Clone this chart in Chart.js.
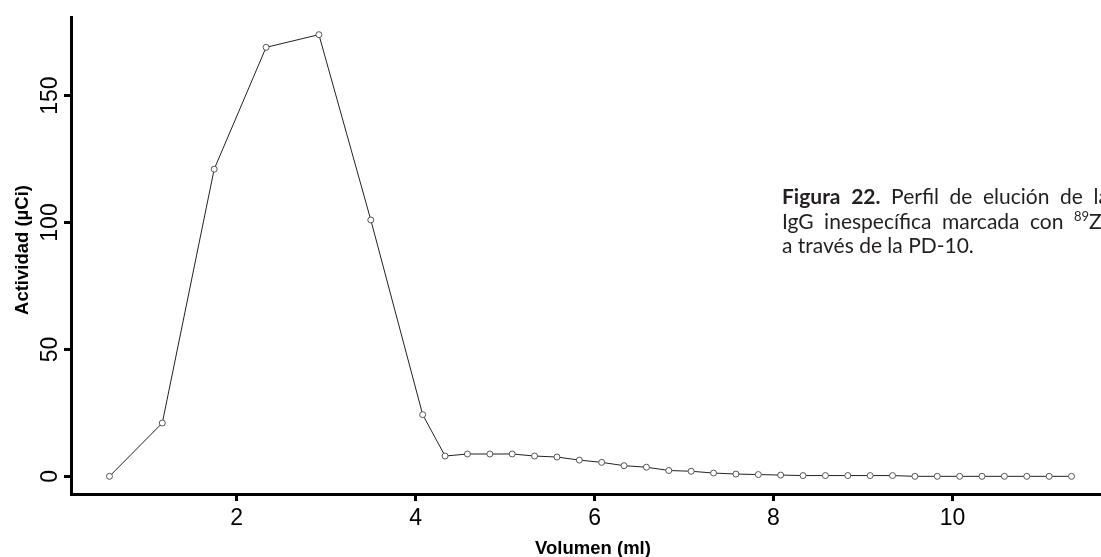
<!DOCTYPE html>
<html>
<head>
<meta charset="utf-8">
<script src="https://cdn.jsdelivr.net/npm/chart.js@4/dist/chart.umd.min.js"></script>
<style>
    html, body { margin: 0; padding: 0; overflow: hidden; background: #fff; }
    #wrap { position: relative; width: 1115px; height: 557px; }
</style>
</head>
<body>
<div id="wrap"><canvas id="elutionChart" width="1115" height="557"></canvas></div>
<script>
// elution fractions: volume (ml) and measured activity (µCi)
const volumeMl = [0.58, 1.17, 1.75, 2.33, 2.92, 3.5, 4.08, 4.33, 4.58, 4.83, 5.08, 5.33, 5.58, 5.83,
    6.08, 6.33, 6.58, 6.83, 7.08, 7.33, 7.58, 7.83, 8.08, 8.33, 8.58, 8.83, 9.08, 9.33,
    9.58, 9.83, 10.08, 10.33, 10.58, 10.83, 11.08, 11.33];
const activityUCi = [0, 21, 121, 169, 174, 101, 24.3, 8, 8.8, 8.8, 8.8, 8, 7.6, 6.4,
    5.5, 4.2, 3.6, 2.3, 2.0, 1.3, 0.9, 0.7, 0.5, 0.3, 0.3, 0.3, 0.3, 0.3,
    0, 0, 0, 0, 0, 0, 0, 0];
const xTickValues = [2, 4, 6, 8, 10];
const yTickValues = [0, 50, 100, 150];
const xAxisTitle = 'Volumen (ml)';
const yAxisTitle = 'Actividad (µCi)';
// '*' marks bold words, '^89~Zr' is a superscript followed by normal text
const captionLines = [
    '*Figura *22. Perfil de elución de la',
    'IgG inespecífica marcada con ^89~Zr',
    'a través de la PD-10.'
];

const tickFont = '23px "Liberation Sans", Arial, sans-serif';
const titleFont = 'bold 18.5px "Liberation Sans", Arial, sans-serif';
const captionFamily = 'Lato, "Open Sans", sans-serif';
const captionSize = 21;

function wordRuns(word) {
    if (word.startsWith('*')) return [{ text: word.slice(1), font: `bold ${captionSize}px ${captionFamily}`, dy: 0 }];
    if (word.startsWith('^')) {
        const [sup, rest] = word.slice(1).split('~');
        return [
            { text: sup, font: `13px ${captionFamily}`, dy: -8 },
            { text: rest, font: `${captionSize}px ${captionFamily}`, dy: 0 }
        ];
    }
    return [{ text: word, font: `${captionSize}px ${captionFamily}`, dy: 0 }];
}

function drawCaption(ctx) {
    const left = 782, top = 204, lineGap = 24.5, justifyWidth = 327;
    ctx.fillStyle = '#231f20';
    ctx.textAlign = 'left';
    ctx.textBaseline = 'alphabetic';
    captionLines.forEach((line, li) => {
        const words = line.split(' ').map(wordRuns);
        const widths = words.map(runs => runs.reduce((w, r) => { ctx.font = r.font; return w + ctx.measureText(r.text).width; }, 0));
        const total = widths.reduce((a, b) => a + b, 0);
        ctx.font = `${captionSize}px ${captionFamily}`;
        let gap = ctx.measureText(' ').width;
        if (li < captionLines.length - 1) gap = Math.max(gap, (justifyWidth - total) / (words.length - 1));
        let x = left;
        const y = top + li * lineGap;
        words.forEach(runs => {
            runs.forEach(r => {
                ctx.font = r.font;
                ctx.fillText(r.text, x, y + r.dy);
                x += ctx.measureText(r.text).width;
            });
            x += gap;
        });
    });
}

const axisLabels = {
    id: 'axisLabels',
    afterDraw(chart) {
        const ctx = chart.ctx;
        const xs = chart.scales.x, ys = chart.scales.y;
        ctx.save();
        ctx.fillStyle = '#000';
        ctx.font = tickFont;
        ctx.textAlign = 'center';
        ctx.textBaseline = 'alphabetic';
        xTickValues.forEach(v => ctx.fillText(String(v), xs.getPixelForValue(v), 525));
        yTickValues.forEach(v => {
            ctx.save();
            ctx.translate(57, ys.getPixelForValue(v));
            ctx.rotate(-Math.PI / 2);
            ctx.fillText(String(v), 0, 0);
            ctx.restore();
        });
        ctx.font = titleFont;
        ctx.fillText(xAxisTitle, 593, 554);
        ctx.save();
        ctx.translate(28, 250);
        ctx.rotate(-Math.PI / 2);
        ctx.fillText(yAxisTitle, 0, 0);
        ctx.restore();
        drawCaption(ctx);
        ctx.restore();
    }
};

const axisStyle = {
    ticks: { display: false },
    grid: { drawOnChartArea: false, drawTicks: true, tickLength: 7, tickWidth: 3, tickColor: '#000' },
    border: { display: true, width: 3, color: '#000' }
};

new Chart(document.getElementById('elutionChart').getContext('2d'), {
    type: 'line',
    data: {
        datasets: [{
            data: volumeMl.map((v, i) => ({ x: v, y: activityUCi[i] })),
            borderColor: '#222',
            borderWidth: 1,
            tension: 0,
            fill: false,
            pointRadius: 3,
            pointBorderWidth: 1,
            pointBorderColor: '#555',
            pointBackgroundColor: '#fff'
        }]
    },
    options: {
        responsive: false,
        animation: false,
        devicePixelRatio: 1,
        layout: { padding: { top: 17, right: 3, left: 0, bottom: 0 } },
        plugins: { legend: { display: false }, tooltip: { enabled: false } },
        scales: {
            x: {
                type: 'linear', min: 0.15, max: 11.76,
                afterBuildTicks: s => { s.ticks = xTickValues.map(v => ({ value: v })); },
                afterFit: s => { s.height = 63; },
                ...axisStyle
            },
            y: {
                type: 'linear', min: -6.96, max: 180.96,
                afterBuildTicks: s => { s.ticks = yTickValues.map(v => ({ value: v })); },
                afterFit: s => { s.width = 71; },
                ...axisStyle
            }
        }
    },
    plugins: [axisLabels]
});
</script>
</body>
</html>
